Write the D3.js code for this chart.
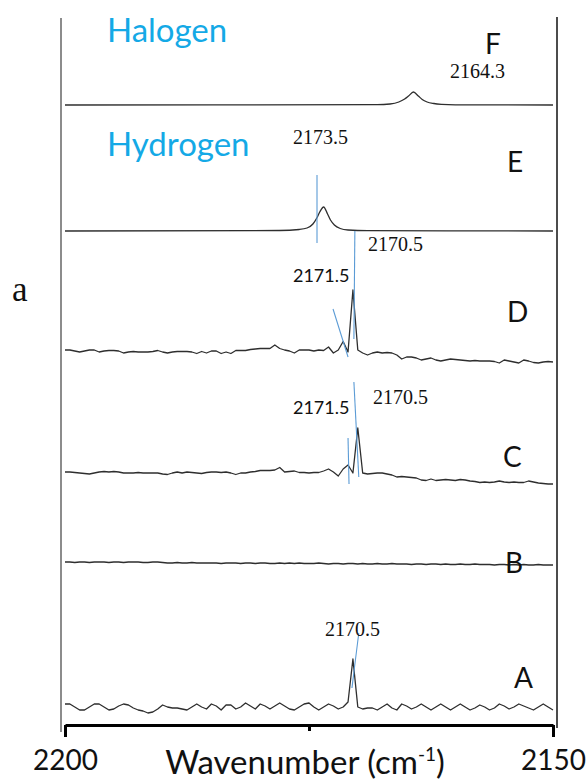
<!DOCTYPE html>
<html>
<head>
<meta charset="utf-8">
<script src="https://cdn.jsdelivr.net/npm/d3@7"></script>
<style>
  body { margin: 0; background: #fff; }
  svg { display: block; }
  .sans { font-family: Lato, "Open Sans", sans-serif; }
  .serif { font-family: "Liberation Serif", "DejaVu Serif", serif; }
</style>
</head>
<body>
<div class="chart-container"></div>
<script>
// sampled wavenumbers (cm-1) for the measured spectra A-D
const wavenumbers = [
  2200, 2199.5, 2199, 2198.5, 2198, 2197.5, 2197, 2196.5, 2196, 2195.5,
  2195, 2194.5, 2194, 2193.5, 2193, 2192.5, 2192, 2191.5, 2191, 2190.5,
  2190, 2189.5, 2189, 2188.5, 2188, 2187.5, 2187, 2186.5, 2186, 2185.5,
  2185, 2184.5, 2184, 2183.5, 2183, 2182.5, 2182, 2181.5, 2181, 2180.5,
  2180, 2179.5, 2179, 2178.5, 2178, 2177.5, 2177, 2176.5, 2176, 2175.5,
  2175, 2174.5, 2174, 2173.5, 2173, 2172.5, 2172, 2171.5, 2171, 2170.5,
  2170, 2169.5, 2169, 2168.5, 2168, 2167.5, 2167, 2166.5, 2166, 2165.5,
  2165, 2164.5, 2164, 2163.5, 2163, 2162.5, 2162, 2161.5, 2161, 2160.5,
  2160, 2159.5, 2159, 2158.5, 2158, 2157.5, 2157, 2156.5, 2156, 2155.5,
  2155, 2154.5, 2154, 2153.5, 2153, 2152.5, 2152, 2151.5, 2151, 2150.5,
  2150
];

const spectrumA = [
  0.3, 0.3, 0, -0.3, -0.3, 0, 0.3, 0.3, 0, -0.3,
  -0.2, 0.1, 0.3, 0.2, -0.1, -0.3, -0.4, -0.6, -0.5, -0.2,
  0.2, 0, -0.1, -0.1, -0.2, -0.3, 0, 0.3, 0, -0.2,
  0.3, 0.1, -0.3, 0.2, 0.2, -0.2, 0, 0.4, 0.1, -0.2,
  0.3, 0.1, -0.2, 0.1, 0.4, 0.1, -0.2, -0.3, 0, 0.3,
  0.4, 0, -0.3, 0, 0.3, 0.1, -0.2, 0, 0.5, 4.8,
  0, -0.2, -0.1, -0.1, -0.3, 0, 0.3, -0.1, -0.3, 0.3,
  0.1, -0.2, 0, 0.3, 0, -0.3, 0, 0.3, 0, -0.3,
  0, 0.3, 0, -0.3, -0.1, 0.2, 0, -0.3, -0.1, 0.3,
  0.1, -0.2, 0, 0.3, 0.1, -0.1, -0.3, 0, 0.3, 0,
  -0.3
];

const spectrumB = [
  0, 0, -0.05, 0, 0, -0.05, 0, 0, 0, -0.05,
  0, 0, -0.05, 0, 0, 0, -0.05, -0.05, 0, 0,
  -0.05, -0.1, -0.1, -0.05, -0.1, -0.1, -0.05, -0.1, -0.1, -0.1,
  -0.1, -0.1, -0.15, -0.1, -0.1, -0.1, -0.15, -0.1, -0.1, -0.15,
  -0.1, -0.1, -0.15, -0.15, -0.1, -0.15, -0.1, -0.15, -0.1, -0.15,
  -0.15, -0.15, -0.1, -0.15, -0.2, -0.15, -0.15, -0.2, -0.15, -0.15,
  -0.2, -0.15, -0.2, -0.2, -0.15, -0.2, -0.2, -0.15, -0.2, -0.2,
  -0.2, -0.25, -0.2, -0.2, -0.25, -0.2, -0.2, -0.25, -0.2, -0.25,
  -0.25, -0.2, -0.25, -0.25, -0.2, -0.25, -0.25, -0.25, -0.3, -0.25,
  -0.25, -0.3, -0.25, -0.3, -0.25, -0.3, -0.3, -0.25, -0.3, -0.3,
  -0.3
];

const spectrumC = [
  0, 0, -0.05, -0.1, -0.15, -0.2, -0.1, 0, 0.05, 0,
  0.05, 0, -0.1, -0.1, -0.1, -0.05, -0.1, -0.1, -0.1, -0.1,
  -0.2, -0.25, -0.1, 0, -0.1, 0, -0.05, -0.1, -0.15, -0.05,
  0, 0, -0.05, 0, -0.1, -0.25, -0.1, -0.1, 0, 0.05,
  0.15, 0.15, 0.15, 0.2, 0.45, 0, 0.05, 0.1, -0.05, -0.05,
  -0.1, -0.05, -0.05, 0.1, 0.3, 0, -0.4, 0.3, 0.7, -0.1,
  4.4, -0.1, -0.2, -0.15, -0.1, -0.1, -0.2, -0.3, -0.5, -0.45,
  -0.5, -0.55, -0.6, -0.8, -0.85, -0.7, -0.85, -0.8, -0.75, -0.8,
  -0.85, -0.75, -0.8, -0.9, -0.95, -1.05, -1, -1.05, -1, -0.9,
  -1, -1.05, -1, -1.05, -1.05, -0.9, -1, -1.1, -1.15, -1.2,
  -1.2
];

const spectrumD = [
  0, 0, -0.1, -0.2, -0.1, 0, 0, -0.2, -0.1, -0.05,
  -0.05, -0.1, -0.3, -0.2, -0.15, -0.2, -0.2, -0.2, -0.15, -0.05,
  -0.2, -0.3, -0.2, -0.15, -0.15, -0.15, -0.2, -0.35, -0.15, -0.3,
  -0.1, -0.1, -0.35, -0.2, -0.35, -0.05, -0.05, -0.05, 0.05, 0.1,
  0.15, 0.15, 0.15, 0.5, 0.15, 0, -0.1, -0.3, 0, 0,
  0, -0.1, 0, -0.05, 0.3, -0.3, 0, 0.85, -0.2, 6.0,
  0, -0.3, -0.5, -0.3, -0.2, -0.3, -0.25, -0.3, -0.5, -0.9,
  -0.7, -0.7, -0.8, -1, -0.9, -0.8, -1, -1.1, -1, -0.9,
  -0.95, -1, -1.05, -1.1, -1.05, -1.1, -1.1, -1.1, -1.15, -1.3,
  -1, -1.1, -1.2, -1.3, -1, -1.1, -1.25, -1.3, -1.2, -1.15,
  -1.2
];

// simulated spectra (hydrogen / halogen bonded), sparse points
const wavenumbersE = [2200, 2178, 2176, 2175.2, 2174.6, 2174.2, 2173.9, 2173.5, 2173.1, 2172.8, 2172.4, 2171.8, 2171, 2169, 2150];
const spectrumE = [0, 0.05, 0.15, 0.3, 0.7, 1.3, 1.9, 2.4, 1.7, 1.1, 0.6, 0.25, 0.1, 0.03, 0];
const wavenumbersF = [2200, 2168, 2166.7, 2165.8, 2165.2, 2164.8, 2164.3, 2163.8, 2163.4, 2162.9, 2162.2, 2161.4, 2160, 2150];
const spectrumF = [0, 0.03, 0.1, 0.3, 0.6, 0.9, 1.3, 0.9, 0.55, 0.3, 0.15, 0.07, 0.02, 0];

// vertical offsets of the stacked traces
const traceNames = ["A", "B", "C", "D", "E", "F"];
const traceOffsets = [1.8, 16.3, 25.3, 37.5, 49.4, 62.0];

// peak position labels
const peakLabels = [
  { text: "2164.3", wn: 2160.55, v: 64.7, font: "serif" },
  { text: "2173.5", wn: 2176.64, v: 58.1, font: "serif" },
  { text: "2170.5", wn: 2168.95, v: 47.4, font: "serif" },
  { text: "2171.5", wn: 2176.64, v: 44.3, font: "sans" },
  { text: "2171.5", wn: 2176.64, v: 31.1, font: "sans" },
  { text: "2170.5", wn: 2168.44, v: 32.1, font: "serif" },
  { text: "2170.5", wn: 2173.36, v: 8.9, font: "serif" }
];

// blue marker lines pointing at the peaks [wn1, v1, wn2, v2]
const peakMarkers = [
  [2174.18, 55.0, 2174.18, 48.2],
  [2170.3, 49.4, 2170.4, 38.6],
  [2172.54, 41.6, 2171.0, 36.8],
  [2170.4, 34.3, 2169.9, 24.8],
  [2171.0, 28.7, 2170.9, 24.1],
  [2169.9, 9.2, 2170.6, 3.7]
];

// trace letters
const traceLetterPos = [
  { name: "A", wn: 2154.0, v: 3.7 },
  { name: "B", wn: 2154.92, v: 15.2 },
  { name: "C", wn: 2155.12, v: 25.8 },
  { name: "D", wn: 2154.71, v: 40.3 },
  { name: "E", wn: 2154.71, v: 55.3 },
  { name: "F", wn: 2156.97, v: 67.1 }
];

const groupLabels = [
  { text: "Halogen", wn: 2195.7, v: 68.3 },
  { text: "Hydrogen", wn: 2195.7, v: 56.9 }
];

const tickValues = [2200, 2175, 2150];

const width = 588, height = 780;

const svg = d3.select(".chart-container")
  .append("svg")
  .attr("width", width)
  .attr("height", height);

const x = d3.scaleLinear().domain([2200, 2150]).range([65, 553]);
const y = d3.scaleLinear().domain([0, 71]).range([725, 15]);

const line = d3.line()
  .x(d => x(d[0]))
  .y(d => y(d[1]));

const measured = [spectrumA, spectrumB, spectrumC, spectrumD];
const traces = measured.map((vals, i) => vals.map((v, j) => [wavenumbers[j], v + traceOffsets[i]]));
traces.push(spectrumE.map((v, j) => [wavenumbersE[j], v + traceOffsets[4]]));
traces.push(spectrumF.map((v, j) => [wavenumbersF[j], v + traceOffsets[5]]));

// frame lines
const frameTop = y(71) + 3;
svg.append("line")
  .attr("x1", x(2200) - 4).attr("x2", x(2200) - 4)
  .attr("y1", frameTop).attr("y2", y(0) + 7)
  .attr("stroke", "#666").attr("stroke-width", 1.5);
svg.append("line")
  .attr("x1", x(2150) + 4).attr("x2", x(2150) + 4)
  .attr("y1", frameTop - 1).attr("y2", y(0) + 3)
  .attr("stroke", "#111").attr("stroke-width", 1.5);

// spectra
svg.append("g")
  .selectAll("path")
  .data(traces)
  .join("path")
  .attr("fill", "none")
  .attr("stroke", "#2e2e2e")
  .attr("stroke-width", 1.3)
  .attr("stroke-linejoin", "round")
  .attr("d", (d, i) => (i >= 4 ? line.curve(d3.curveMonotoneX) : line.curve(d3.curveLinear))(d));

// blue markers
svg.append("g")
  .selectAll("line")
  .data(peakMarkers)
  .join("line")
  .attr("x1", d => x(d[0])).attr("y1", d => y(d[1]))
  .attr("x2", d => x(d[2])).attr("y2", d => y(d[3]))
  .attr("stroke", "#5b9bd5")
  .attr("stroke-width", 1.1);

// peak labels
svg.append("g")
  .selectAll("text")
  .data(peakLabels)
  .join("text")
  .attr("class", d => d.font)
  .attr("x", d => x(d.wn))
  .attr("y", d => y(d.v))
  .attr("font-size", d => d.font === "serif" ? 20 : 18)
  .attr("fill", "#111")
  .text(d => d.text);

// trace letters
svg.append("g")
  .selectAll("text")
  .data(traceLetterPos)
  .join("text")
  .attr("class", "sans")
  .attr("x", d => x(d.wn))
  .attr("y", d => y(d.v))
  .attr("font-size", 28)
  .attr("fill", "#111")
  .text(d => d.name);

// Halogen / Hydrogen
svg.append("g")
  .selectAll("text")
  .data(groupLabels)
  .join("text")
  .attr("class", "sans")
  .attr("x", d => x(d.wn))
  .attr("y", d => y(d.v))
  .attr("font-size", 33)
  .attr("fill", "#14a9e6")
  .text(d => d.text);

// "a" panel label
svg.append("text")
  .attr("class", "serif")
  .attr("x", 12)
  .attr("y", 301)
  .attr("font-size", 35)
  .attr("fill", "#111")
  .text("a");

// x axis
const xAxis = svg.append("g")
  .attr("transform", `translate(0,${y(0)})`)
  .call(d3.axisBottom(x)
    .tickValues(tickValues)
    .tickSize(12)
    .tickSizeOuter(0)
    .tickFormat(d => d === 2175 ? "" : d));

xAxis.select(".domain")
  .attr("stroke", "#000")
  .attr("stroke-width", 3);
xAxis.selectAll(".tick line")
  .attr("stroke", "#000")
  .attr("stroke-width", 3)
  .attr("y2", d => d === 2175 ? 6 : 12);
xAxis.selectAll(".tick text")
  .attr("class", "sans")
  .attr("y", 45)
  .attr("dy", 0)
  .attr("font-size", 28)
  .attr("fill", "#111");

// axis title
const title = svg.append("text")
  .attr("class", "sans")
  .attr("x", x(2175) - 4)
  .attr("y", 774)
  .attr("text-anchor", "middle")
  .attr("font-size", 33)
  .attr("fill", "#111");
title.append("tspan").text("Wavenumber (cm");
title.append("tspan").attr("font-size", 19).attr("dy", -13).text("-1");
title.append("tspan").attr("dy", 13).text(")");
</script>
</body>
</html>
